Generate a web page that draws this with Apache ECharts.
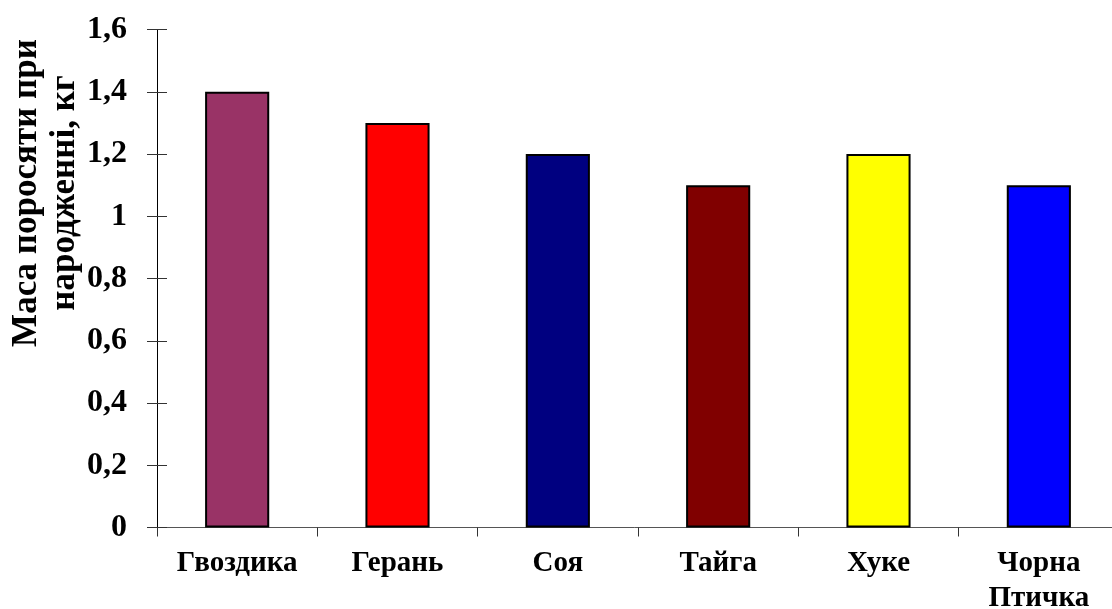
<!DOCTYPE html>
<html>
<head>
<meta charset="utf-8">
<script src="https://cdn.jsdelivr.net/npm/echarts@6/dist/echarts.min.js"></script>
<style>
  html, body { margin: 0; padding: 0; background: #fff; }
  #chart { width: 1112px; height: 609px; }
</style>
</head>
<body>
<div id="chart"></div>
<script>
var breeds = ['Гвоздика', 'Герань', 'Соя', 'Тайга', 'Хуке', 'Чорна\nПтичка'];
var birthWeight = [1.4, 1.3, 1.2, 1.1, 1.2, 1.1];
var barColors = ['#993366', '#FF0000', '#000080', '#800000', '#FFFF00', '#0000FF'];
var yTitle = 'Маса поросяти при\nнародженні, кг';

var serif = '"Liberation Serif", "Times New Roman", "DejaVu Serif", serif';

function fmtComma(v) {
    return String(Math.round(v * 10) / 10).replace('.', ',');
}

var yBase = {
    min: 0,
    max: 1.6,
    interval: 0.2,
    splitLine: { show: false },
    axisLine: { show: true, lineStyle: { color: '#000', width: 1 } }
};

var chart = echarts.init(document.getElementById('chart'));
chart.setOption({
    animation: false,
    backgroundColor: '#fff',
    grid: {
        left: 157, right: -7, top: 29.5, bottom: 81.5,
        containLabel: false,
        outerBoundsMode: 'none'
    },
    xAxis: {
        type: 'category',
        data: breeds,
        axisLine: { lineStyle: { color: '#555', width: 1 } },
        axisTick: { show: true, length: 9, lineStyle: { color: '#333' } },
        axisLabel: {
            margin: 19,
            fontFamily: serif,
            fontWeight: 'bold',
            fontSize: 29,
            lineHeight: 35,
            color: '#000',
            interval: 0
        }
    },
    yAxis: [
        Object.assign({}, yBase, {
            type: 'value',
            axisTick: { show: true, length: 10, lineStyle: { color: '#333' } },
            axisLabel: {
                margin: 30,
                fontFamily: serif,
                fontWeight: 'bold',
                fontSize: 32,
                color: '#000',
                formatter: fmtComma
            }
        }),
        Object.assign({}, yBase, {
            type: 'value',
            position: 'left',
            axisTick: { show: true, inside: true, length: 10, lineStyle: { color: '#333' } },
            axisLabel: { show: false }
        })
    ],
    // rotated two-line axis title, both lines centred on y ~193
    graphic: [{
        type: 'text',
        x: 46,
        y: 193,
        rotation: Math.PI / 2,
        style: {
            text: yTitle,
            fontFamily: serif,
            fontWeight: 'bold',
            fontSize: 35,
            lineHeight: 38,
            fill: '#000',
            align: 'center',
            verticalAlign: 'middle'
        }
    }],
    series: [{
        type: 'bar',
        yAxisIndex: 0,
        barWidth: '40%',
        data: birthWeight.map(function (v, i) {
            return {
                value: v,
                itemStyle: { color: barColors[i], borderColor: '#000', borderWidth: 2 }
            };
        })
    }]
});
</script>
</body>
</html>
